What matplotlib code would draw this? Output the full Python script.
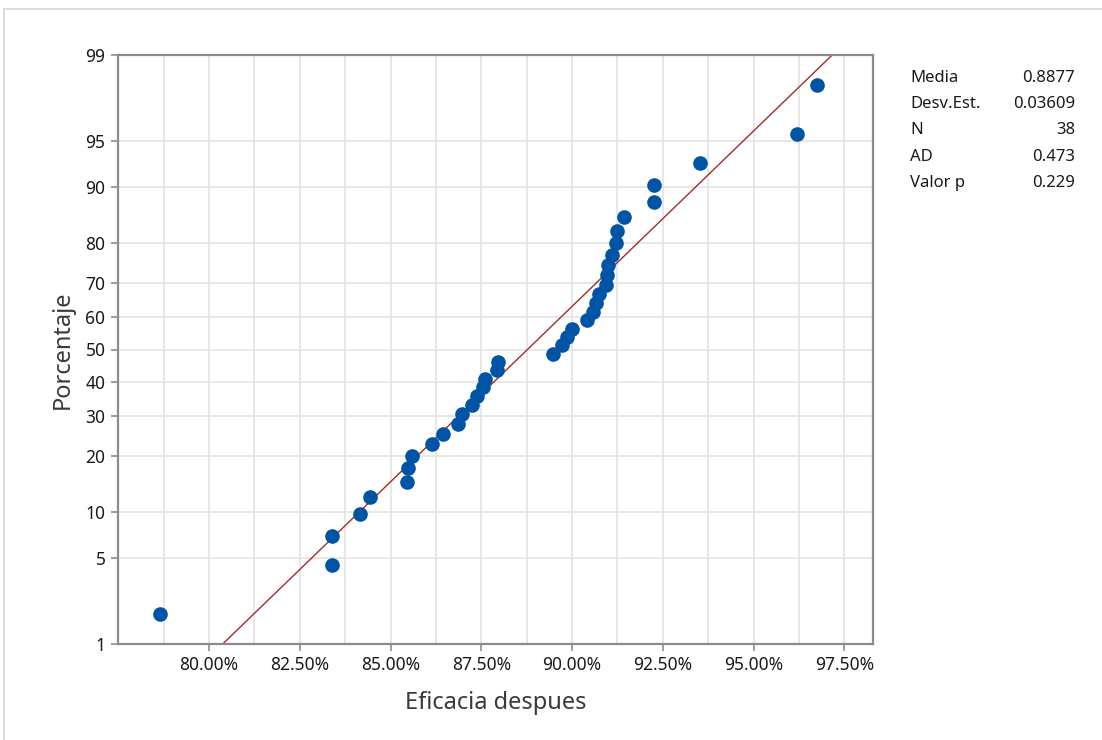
import numpy as np
import matplotlib.pyplot as plt
from matplotlib.lines import Line2D
from matplotlib.ticker import FuncFormatter, MultipleLocator, FixedLocator
from statistics import NormalDist

plt.rcParams['font.family'] = ['Noto Sans', 'DejaVu Sans']

# eficacia despues (sorted), as fractions
eficacia = [0.7865, 0.8339, 0.8339, 0.8416, 0.8444, 0.8545, 0.8548, 0.8559,
            0.8614, 0.8645, 0.8686, 0.8697, 0.8724, 0.8738, 0.8755, 0.8760,
            0.8793, 0.8796, 0.8948, 0.8973, 0.8986, 0.9001, 0.9041, 0.9058,
            0.9066, 0.9074, 0.9093, 0.9097, 0.9099, 0.9110, 0.9121, 0.9124,
            0.9143, 0.9226, 0.9226, 0.9353, 0.9620, 0.9675]

media = 0.8877
desv = 0.03609
stat_names = ['Media', 'Desv.Est.', 'N', 'AD', 'Valor p']
stat_values = ['0.8877', '0.03609', '38', '0.473', '0.229']

x_ticks = [0.80, 0.825, 0.85, 0.875, 0.90, 0.925, 0.95, 0.975]
pct_ticks = [1, 5, 10, 20, 30, 40, 50, 60, 70, 80, 90, 95, 99]

nd = NormalDist()
n = len(eficacia)
# median ranks (Benard)
ranks = [(i - 0.3) / (n + 0.4) for i in range(1, n + 1)]
z = [nd.inv_cdf(p) for p in ranks]

fig = plt.figure(figsize=(11.02, 7.40), dpi=100)
ax = fig.add_axes([118/1102, 1 - 644/740, (873 - 118)/1102, (644 - 55)/740])

zlo, zhi = nd.inv_cdf(0.01), nd.inv_cdf(0.99)
zl = np.linspace(zlo - 0.2, zhi + 0.2, 50)
ax.plot(media + desv * zl, zl, color='#a52a2a', lw=1.0, zorder=2)
ax.plot(eficacia, z, 'o', color='#0054a6', markersize=9.5, mec='#0054a6', zorder=3)

ax.set_xlim(0.7749, 0.9829)
ax.set_ylim(zlo, zhi)

ax.xaxis.set_major_locator(FixedLocator(x_ticks))
ax.xaxis.set_minor_locator(MultipleLocator(0.0125))
ax.xaxis.set_major_formatter(FuncFormatter(lambda v, pos: f'{v*100:.2f}%'))
ax.set_yticks([nd.inv_cdf(p / 100) for p in pct_ticks])
ax.set_yticklabels([str(p) for p in pct_ticks])

ax.grid(True, which='both', axis='x', color='#e3e3e3', lw=1.2, zorder=0)
ax.grid(True, which='major', axis='y', color='#e3e3e3', lw=1.2, zorder=0)
ax.set_axisbelow(True)
ax.tick_params(axis='x', which='minor', length=0)
ax.tick_params(axis='both', which='major', length=5, width=1.2, color='#8c8c8c',
               labelsize=12.5, labelcolor='#1a1a1a', pad=4)
for s in ax.spines.values():
    s.set_color('#8c8c8c')
    s.set_linewidth(1.6)

ax.set_xlabel('Eficacia despues', fontsize=17, color='#3a3a3a', labelpad=12)
ax.set_ylabel('Porcentaje', fontsize=17, color='#3a3a3a', labelpad=8)

# stats table on the right
for k, (nm, val) in enumerate(zip(stat_names, stat_values)):
    yy = 1 - (78 + k * 26.2) / 740
    fig.text(910/1102, yy, nm, fontsize=12, color='#1a1a1a', va='center', ha='left')
    fig.text(1075/1102, yy, val, fontsize=12, color='#1a1a1a', va='center', ha='right')

# thin frame around the graph window
fig.add_artist(Line2D([4/1102, 1], [1 - 9/740] * 2, color='#d8d8d8', lw=1.2))
fig.add_artist(Line2D([4/1102] * 2, [0, 1 - 9/740], color='#d8d8d8', lw=1.2))

fig.savefig('out.png', dpi=100)
